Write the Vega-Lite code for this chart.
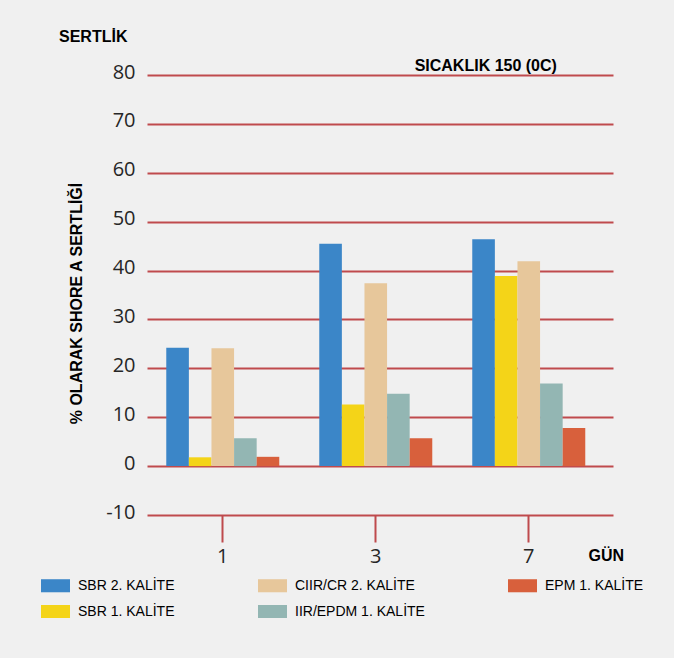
{
  "$schema": "https://vega.github.io/schema/vega-lite/v6.json",
  "autosize": {"type": "none"},
  "padding": {"left": 147, "top": 75, "right": 61, "bottom": 143},
  "width": 466,
  "height": 440,
  "background": "#f0f0f0",
  "config": {
    "view": {"stroke": null},
    "legend": {
      "orient": "none",
      "legendX": -106,
      "legendY": 496,
      "direction": "horizontal",
      "columns": 3,
      "columnPadding": 83,
      "rowPadding": 4,
      "symbolType": "M-1,-0.45H1V0.45H-1Z",
      "symbolSize": 841,
      "symbolStrokeWidth": 0,
      "labelFont": "Liberation Sans",
      "labelFontSize": 14,
      "labelColor": "#000000",
      "labelOffset": 8,
      "labelLimit": 300
    }
  },
  "title": {
    "text": "SERTLİK",
    "anchor": "start",
    "frame": "group",
    "dx": -88,
    "offset": 0,
    "baseline": "alphabetic",
    "font": "Liberation Sans",
    "fontSize": 16,
    "fontWeight": "bold",
    "color": "#000000"
  },
  "layer": [
    {
      "data": {
        "values": [
          {"gun": "1", "seri": "SBR 2. KALİTE", "sertlik": 24.2},
          {"gun": "1", "seri": "SBR 1. KALİTE", "sertlik": 1.8},
          {"gun": "1", "seri": "CIIR/CR 2. KALİTE", "sertlik": 24.1},
          {"gun": "1", "seri": "IIR/EPDM 1. KALİTE", "sertlik": 5.7},
          {"gun": "1", "seri": "EPM 1. KALİTE", "sertlik": 1.9},
          {"gun": "3", "seri": "SBR 2. KALİTE", "sertlik": 45.5},
          {"gun": "3", "seri": "SBR 1. KALİTE", "sertlik": 12.6},
          {"gun": "3", "seri": "CIIR/CR 2. KALİTE", "sertlik": 37.4},
          {"gun": "3", "seri": "IIR/EPDM 1. KALİTE", "sertlik": 14.8},
          {"gun": "3", "seri": "EPM 1. KALİTE", "sertlik": 5.7},
          {"gun": "7", "seri": "SBR 2. KALİTE", "sertlik": 46.4},
          {"gun": "7", "seri": "SBR 1. KALİTE", "sertlik": 38.9},
          {"gun": "7", "seri": "CIIR/CR 2. KALİTE", "sertlik": 41.9},
          {"gun": "7", "seri": "IIR/EPDM 1. KALİTE", "sertlik": 16.9},
          {"gun": "7", "seri": "EPM 1. KALİTE", "sertlik": 7.8}
        ]
      },
      "mark": {"type": "bar", "strokeWidth": 0},
      "encoding": {
        "x": {
          "field": "gun",
          "type": "ordinal",
          "sort": ["1", "3", "7"],
          "scale": {"paddingInner": 0.2614, "paddingOuter": 0.1536, "align": 0.41},
          "axis": {
            "title": "GÜN",
            "titleFont": "Liberation Sans",
            "titleFontSize": 16,
            "titleFontWeight": "bold",
            "titleColor": "#000000",
            "titleAlign": "left",
            "titleAnchor": null,
            "titleX": 441,
            "titleY": 45,
            "titleBaseline": "alphabetic",
            "domain": false,
            "grid": false,
            "tickColor": "#bf4a4d",
            "tickWidth": 2,
            "tickSize": 27,
            "labelAngle": 0,
            "labelFont": "Open Sans",
            "labelFontSize": 20,
            "labelColor": "#262626",
            "labelPadding": 4
          }
        },
        "xOffset": {
          "field": "seri",
          "type": "nominal",
          "sort": ["SBR 2. KALİTE", "SBR 1. KALİTE", "CIIR/CR 2. KALİTE", "IIR/EPDM 1. KALİTE", "EPM 1. KALİTE"],
          "scale": {"paddingInner": 0, "paddingOuter": 0}
        },
        "y": {
          "field": "sertlik",
          "type": "quantitative",
          "scale": {"domain": [-10, 80], "nice": false, "zero": false},
          "axis": {
            "title": "% OLARAK SHORE A SERTLİĞİ",
            "titleFont": "Liberation Sans",
            "titleFontSize": 16,
            "titleFontWeight": "bold",
            "titleColor": "#000000",
            "titleAngle": -90,
            "titleAlign": "center",
            "titleAnchor": null,
            "titleBaseline": "middle",
            "titleX": -71,
            "titleY": 228,
            "values": [-10, 0, 10, 20, 30, 40, 50, 60, 70, 80],
            "labelExpr": "'' + datum.value",
            "domain": false,
            "ticks": false,
            "tickSize": 0,
            "labelPadding": 12,
            "labelFont": "Open Sans",
            "labelFontSize": 20,
            "labelColor": "#262626",
            "labelBaseline": "middle",
            "labelOffset": -3,
            "grid": true,
            "gridColor": "#bf4a4d",
            "gridWidth": 2,
            "gridOpacity": 1
          }
        },
        "y2": {"datum": 0},
        "color": {
          "field": "seri",
          "type": "nominal",
          "scale": {
            "domain": ["SBR 2. KALİTE", "CIIR/CR 2. KALİTE", "EPM 1. KALİTE", "SBR 1. KALİTE", "IIR/EPDM 1. KALİTE"],
            "range": ["#3b86c8", "#e7c79b", "#d8603c", "#f4d418", "#93b6b3"]
          },
          "legend": {"title": null}
        }
      }
    },
    {
      "data": {"values": [{"not": "SICAKLIK 150 (0C)"}]},
      "mark": {
        "type": "text",
        "font": "Liberation Sans",
        "fontSize": 16,
        "fontWeight": "bold",
        "color": "#000000",
        "align": "center",
        "baseline": "alphabetic",
        "dx": -43,
        "dy": -4
      },
      "encoding": {
        "x": {"datum": "7"},
        "y": {"datum": 80},
        "text": {"field": "not"}
      }
    }
  ]
}
